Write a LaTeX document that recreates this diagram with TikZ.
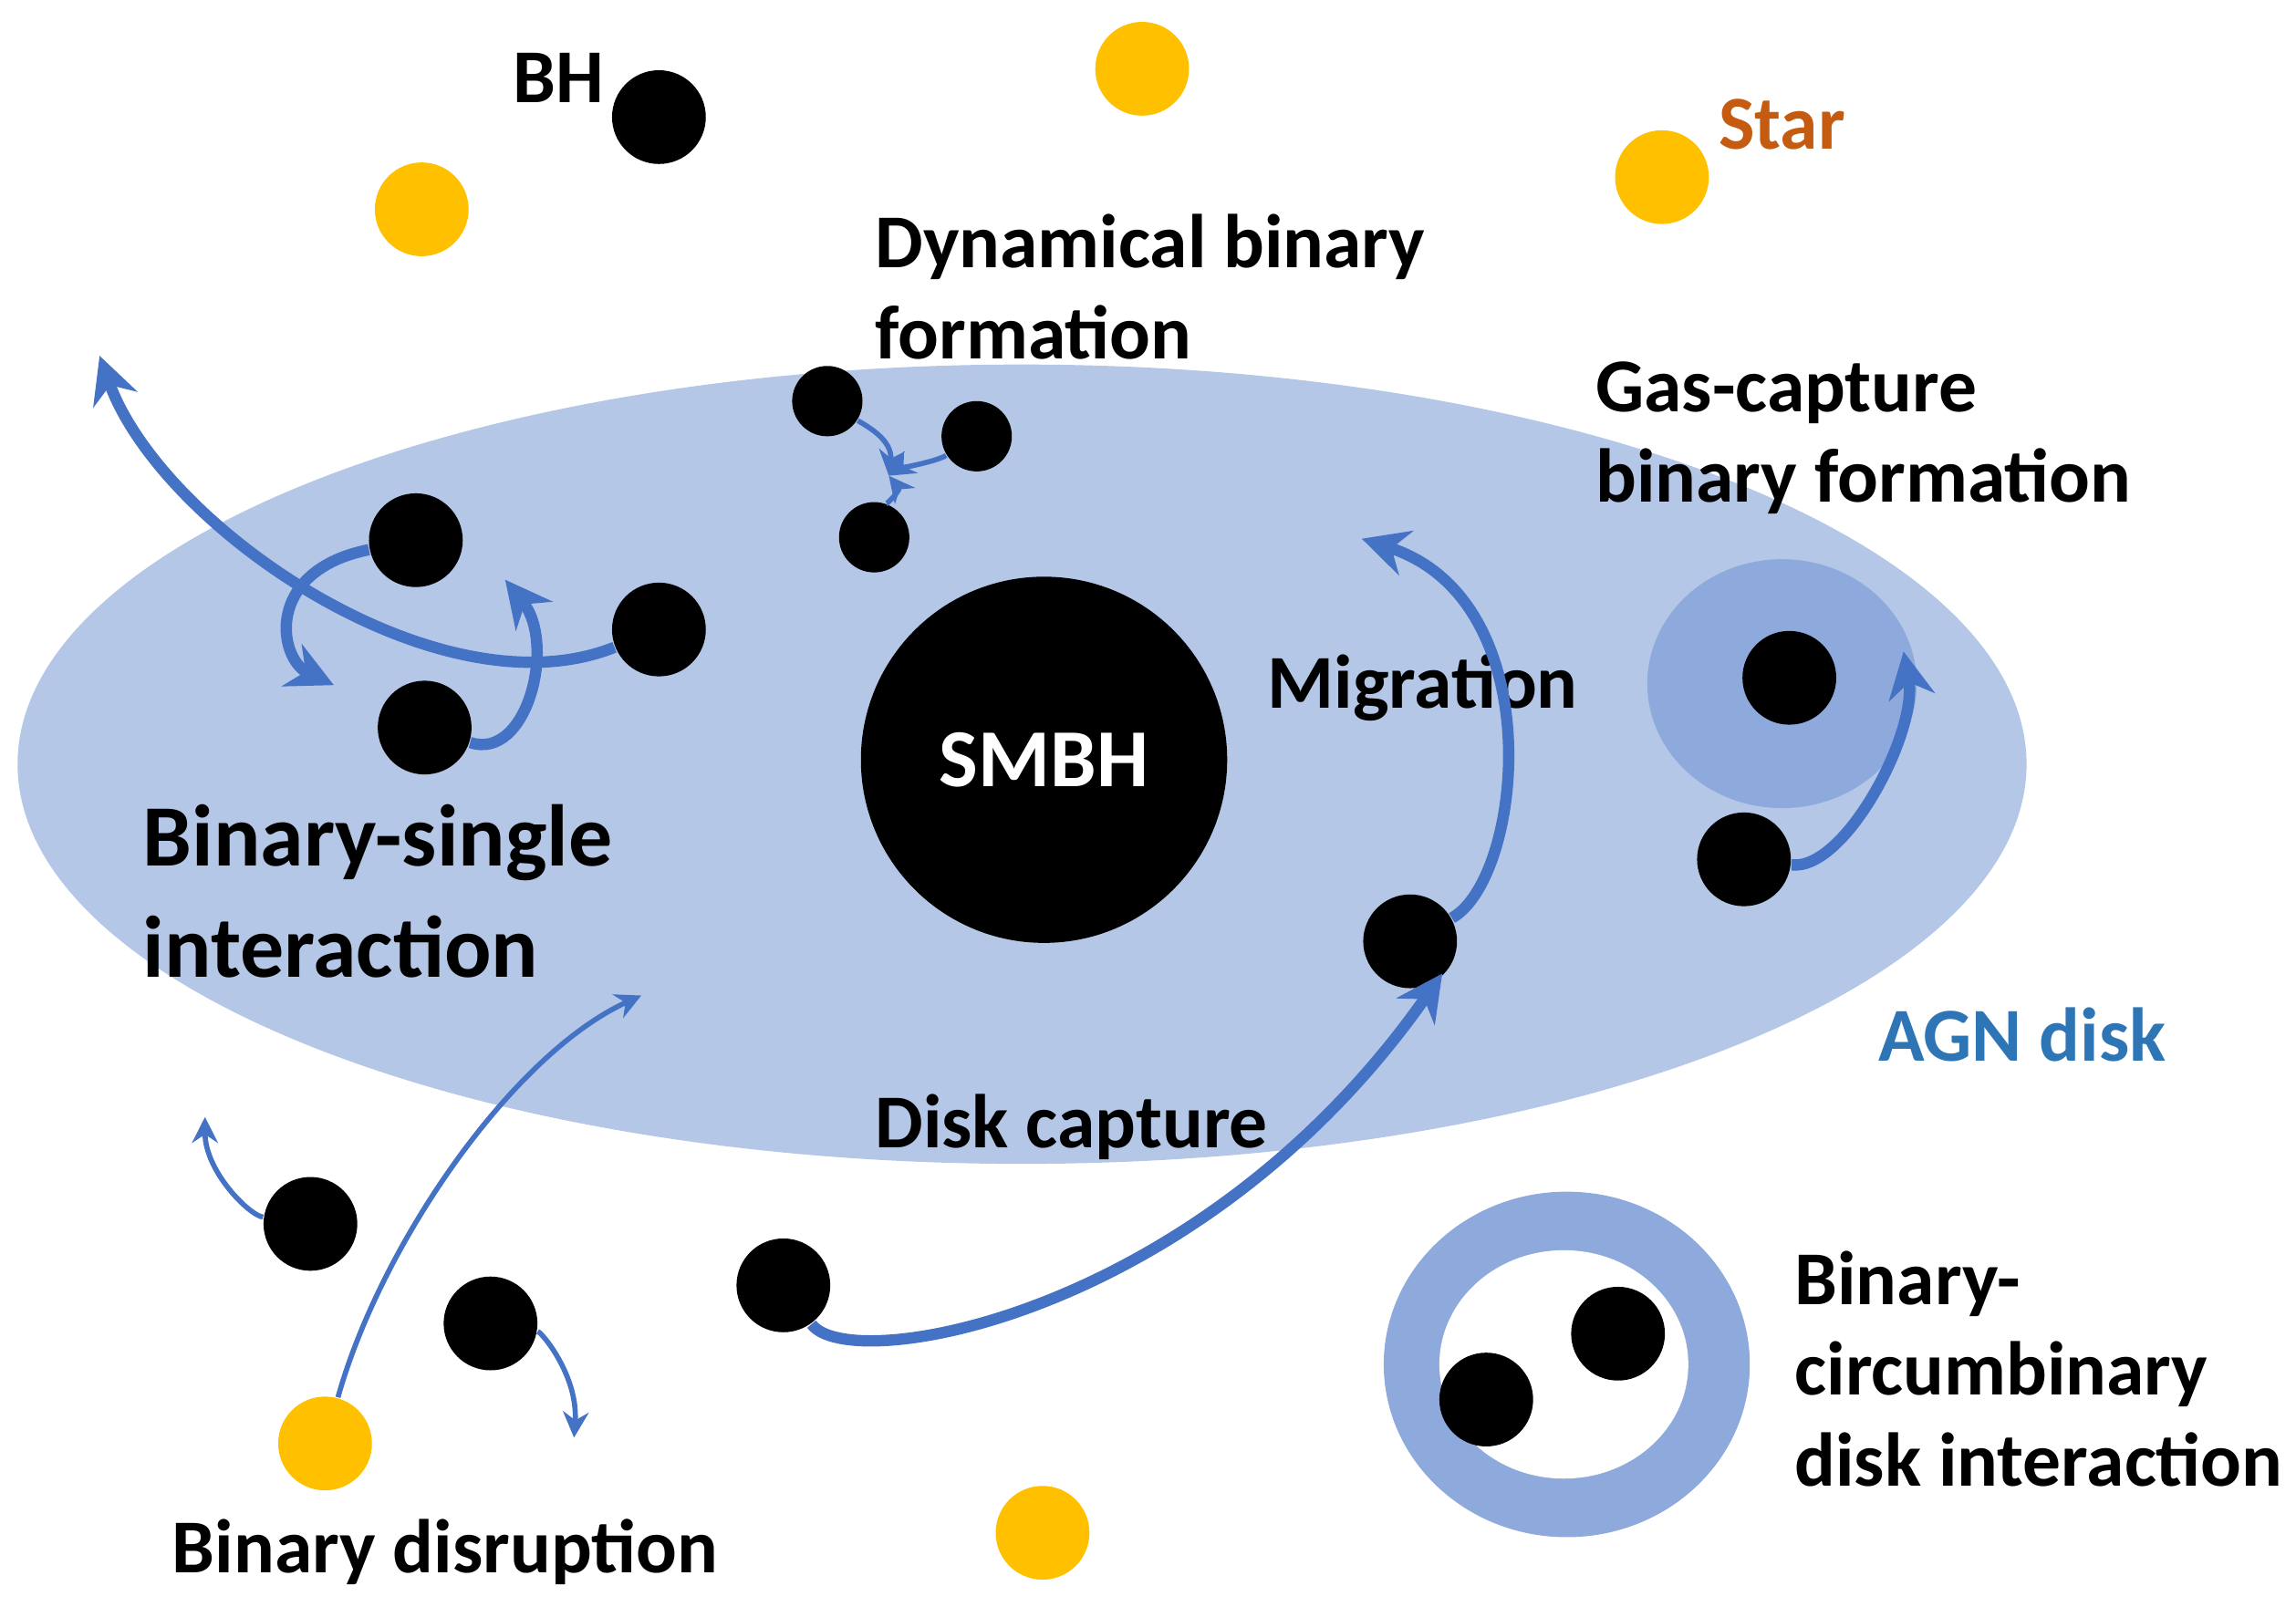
\documentclass[tikz,border=0pt]{standalone}
\usepackage{fontspec}
\setmainfont{Carlito}
\usetikzlibrary{arrows.meta}
\definecolor{disk}{HTML}{B4C7E7}
\definecolor{gas}{HTML}{8EA9DB}
\definecolor{star}{HTML}{FFC000}
\definecolor{arr}{HTML}{4472C4}
\definecolor{org}{HTML}{C55A11}
\definecolor{agn}{HTML}{2E75B6}
\begin{document}
\begin{tikzpicture}[x=0.01cm,y=-0.01cm,
 bh/.style={circle,fill=black,minimum size=0.64cm,inner sep=0},
 sbh/.style={circle,fill=black,minimum size=0.48cm,inner sep=0},
 st/.style={circle,fill=star,minimum size=0.64cm,inner sep=0},
 lab/.style={font=\bfseries\fontsize{14.8}{17.6}\selectfont,anchor=west,align=left,inner sep=0},
 big/.style={font=\bfseries\fontsize{17}{21.6}\selectfont,anchor=west,align=left,inner sep=0},
 ar/.style={draw=arr,line width=2.2pt,-{Stealth[length=9pt,width=9pt]}},
 ta/.style={draw=arr,line width=1pt,-{Stealth[length=5pt,width=5pt]}}]
\useasboundingbox (0,0) rectangle (1568,1104);
\fill[disk] (698,522) ellipse [x radius=686,y radius=273];
\node[circle,fill=black,minimum size=2.5cm,inner sep=0,text=white,font=\bfseries\fontsize{16}{18}\selectfont] (smbh) at (713,519) {SMBH};
% stars
\node[st] (s1) at (780,47) {};
\node[st] (s2) at (288,143) {};
\node[st] (s3) at (1135,121) {};
\node[st] (s4) at (222,986) {};
\node[st] (s5) at (712,1047) {};
\node[bh] (bh0) at (450,80) {};
\node[lab] (lbh) at (350,53) {BH};
\node[lab,text=org] (lstar) at (1173,85) {Star};
% dynamical
\node[lab] (ldyn) at (597,196) {Dynamical binary\\formation};
\node[sbh] (d1) at (565,274) {};
\node[sbh] (d2) at (667,298) {};
\node[sbh] (d3) at (597,367) {};
\coordinate (dc) at (607,325);
\draw[ta] (d1) .. controls (590,290) and (610,300) .. (dc);
\draw[ta] (d2) .. controls (640,315) and (615,320) .. (dc);
\draw[ta] (d3) .. controls (605,345) and (615,335) .. (dc);
% gas capture
\node[lab] (lgas) at (1089,299) {Gas-capture\\binary formation};
\fill[gas] (1217,467) ellipse [x radius=92,y radius=85];
\node[bh] (g1) at (1222,463) {};
\node[bh] (g2) at (1191,587) {};
\coordinate (g3) at (1300,445);
\draw[ar] (g2) .. controls (1260,595) and (1310,500) .. (g3);
% migration
\node[lab] (lmig) at (865,470) {Migration};
\node[bh] (m1) at (963,643) {};
\coordinate (m2) at (930,368);
\draw[ar] (m1) .. controls (1040,600) and (1060,410) .. (m2);
% binary-single
\node[big] (lbs) at (97,609) {Binary-single\\interaction};
\node[bh] (b1) at (284,369) {};
\node[bh] (b2) at (450,430) {};
\node[bh] (b3) at (290,497) {};
\coordinate (b4) at (68,243);
\coordinate (b5) at (228,468);
\coordinate (b6) at (345,396);
\draw[ar] (b2) .. controls (300,490) and (110,360) .. (b4);
\draw[ar] (b1) .. controls (180,390) and (190,450) .. (b5);
\draw[ar] (b3) .. controls (360,520) and (380,440) .. (b6);
% AGN
\node[lab,text=agn] (lagn) at (1282,707) {AGN disk};
% disk capture
\node[lab] (ldc) at (597,770) {Disk capture};
\node[bh] (c1) at (535,878) {};
\coordinate (c2) at (985,665);
\draw[ar] (c1) .. controls (580,940) and (820,900) .. (c2);
% disruption
\node[bh] (r1) at (212,836) {};
\node[bh] (r2) at (335,904) {};
\coordinate (r3) at (438,680);
\coordinate (r4) at (140,763);
\coordinate (r5) at (392,982);
\draw[ta] (s4) .. controls (260,850) and (350,720) .. (r3);
\draw[ta] (r1) .. controls (170,830) and (140,800) .. (r4);
\draw[ta] (r2) .. controls (370,910) and (395,940) .. (r5);
\node[lab] (ldis) at (117,1060) {Binary disruption};
% circumbinary
\fill[gas] (1070,932) ellipse [x radius=125,y radius=118];
\fill[white] (1068,932) ellipse [x radius=85,y radius=78];
\node[bh] (cb1) at (1105,911) {};
\node[bh] (cb2) at (1015,956) {};
\node[lab] (lcb) at (1225,935) {Binary-\\circumbinary\\disk interaction};
\end{tikzpicture}
\end{document}
